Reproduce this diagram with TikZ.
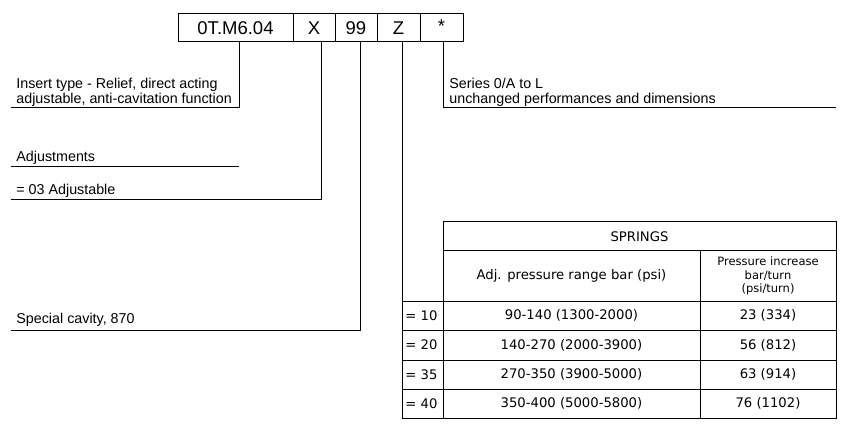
\documentclass[tikz,border=0pt]{standalone}
\usepackage{fontspec}
\setmainfont{Liberation Sans}
\newfontfamily\tabfont{DejaVu Sans}
\begin{document}
\begin{tikzpicture}[x=1pt,y=-1pt,line width=0.8pt,
  lbl/.style={anchor=base west,inner sep=0pt,font=\fontsize{14.3}{16}\selectfont},
  cell/.style={anchor=center,inner sep=0pt,font=\tabfont\fontsize{13.2}{15}\selectfont},
  code/.style={anchor=center,inner sep=0pt,font=\fontsize{18.5}{20}\selectfont},
  small/.style={align=center,inner sep=0pt,font=\tabfont\fontsize{11.5}{13.5}\selectfont}]
\useasboundingbox (0,0) rectangle (847,426);
% code boxes
\draw (178,13) rectangle (463,41);
\foreach \x in {293,335,377,420} \draw (\x,13) -- (\x,41);
\node[code] (c1) at (235.5,28) {0T.M6.04};
\node[code] (c2) at (314,28) {X};
\node[code] (c3) at (356,28) {99};
\node[code] (c4) at (398.5,28) {Z};
\node[code] (c5) at (441.5,26) {*};
% leaders
\coordinate (e1) at (11,107);
\coordinate (e2) at (11,199);
\coordinate (e3) at (11,330);
\coordinate (e5) at (836,107);
\draw (239,41) -- (239,107) -- (e1);
\draw (321,41) -- (321,199) -- (e2);
\draw (360,41) -- (360,330) -- (e3);
\draw (443,41) -- (443,107) -- (e5);
\draw (11,166) -- (239,166);
% texts
\node[lbl] (t1) at (16,88) {Insert type - Relief, direct acting};
\node[lbl] (t1b) at (16,103) {adjustable, anti-cavitation function};
\node[lbl] (t2) at (16,161) {Adjustments};
\node[lbl] (t2b) at (16,194) {= 03 Adjustable};
\node[lbl] (t3) at (16,323) {Special cavity, 870};
\node[lbl] (t5) at (449,88) {Series 0/A to L};
\node[lbl] (t5b) at (449,103) {unchanged performances and dimensions};
% table
\draw (402,41) -- (402,418);
\draw (443,221) rectangle (836,418);
\draw (443,250) -- (836,250);
\draw (700,250) -- (700,418);
\foreach \y in {301,330,360,389,418} \draw (402,\y) -- (836,\y);
\node[cell] (h0) at (639.5,237) {SPRINGS};
\node[cell] (h1) at (571.5,276) {Adj. pressure range bar (psi)};
\node[small] (h2) at (768,276) {Pressure increase\\bar/turn\\(psi/turn)};
\foreach \y/\k/\a/\b [count=\i] in {315.5/10/90-140 (1300-2000)/23 (334),345/20/140-270 (2000-3900)/56 (812),374.5/35/270-350 (3900-5000)/63 (914),403.5/40/350-400 (5000-5800)/76 (1102)}{
  \node[cell,anchor=west] (k\i) at (405,\y) {= \k};
  \node[cell] (a\i) at (571.5,\y) {\a};
  \node[cell] (b\i) at (768,\y) {\b};
}
\end{tikzpicture}
\end{document}
